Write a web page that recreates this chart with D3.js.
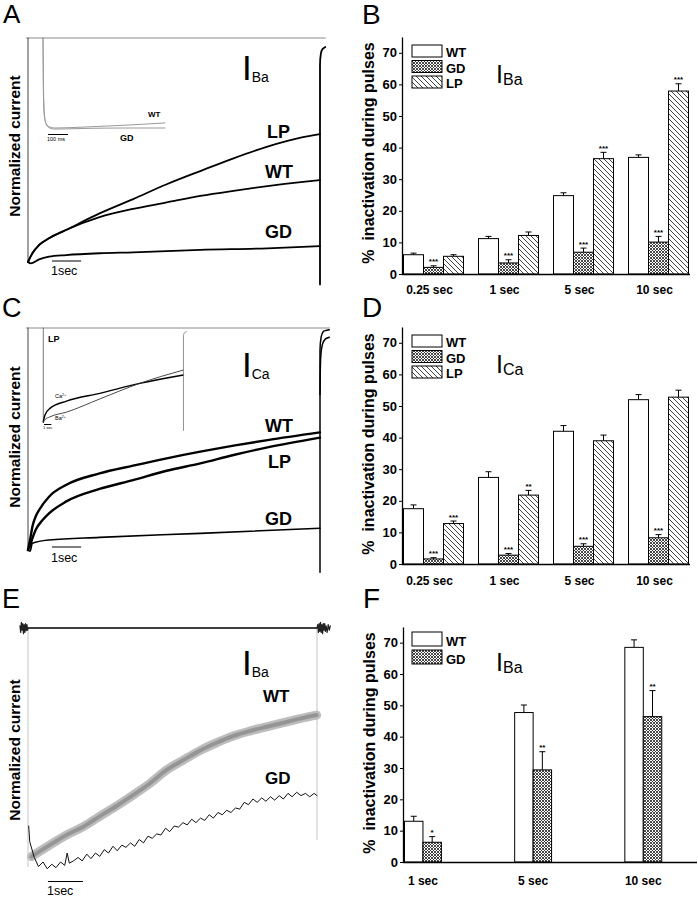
<!DOCTYPE html>
<html><head><meta charset="utf-8">
<script src="https://cdn.jsdelivr.net/npm/d3@7"></script>
<style>body{margin:0;background:#fff} svg{display:block;font-family:"Liberation Sans",Arial,Helvetica,sans-serif}</style>
</head><body><svg id="c" width="698" height="899"></svg>
<script>
// ===== Bar chart data =====
const yTicks = [0, 10, 20, 30, 40, 50, 60, 70];
const groupsBD = ["0.25 sec", "1 sec", "5 sec", "10 sec"];
const groupsF = ["1 sec", "5 sec", "10 sec"];

const B_WT = [6.1, 11.2, 24.8, 36.9];
const B_WT_err = [0.5, 0.7, 0.9, 0.8];
const B_GD = [2.1, 3.5, 6.9, 10.1];
const B_GD_err = [0.5, 1.0, 1.3, 1.8];
const B_LP = [5.6, 12.2, 36.5, 57.9];
const B_LP_err = [0.5, 1.1, 2.0, 2.3];
const B_GD_sig = ["***", "***", "***", "***"];
const B_LP_sig = ["", "", "***", "***"];

const D_WT = [17.5, 27.4, 42.0, 52.0];
const D_WT_err = [1.2, 1.8, 1.8, 1.6];
const D_GD = [1.6, 2.8, 5.6, 8.3];
const D_GD_err = [0.4, 0.5, 0.8, 1.0];
const D_LP = [12.8, 21.8, 39.0, 52.8];
const D_LP_err = [0.8, 1.5, 1.8, 2.2];
const D_GD_sig = ["***", "***", "***", "***"];
const D_LP_sig = ["***", "**", "", ""];

const F_WT = [13.0, 47.7, 68.5];
const F_WT_err = [1.6, 2.4, 2.4];
const F_GD = [6.3, 29.4, 46.4];
const F_GD_err = [1.8, 5.8, 8.3];
const F_GD_sig = ["*", "**", "**"];

// ===== Current traces (time in s, normalized current) =====
const A_zero = [[-0.05, 0], [10.18, 0]];
const A_onset = [[0, 0], [0, -1]];
const A_LP = [[0,-1],[0.15,-0.961],[0.38,-0.924],[0.72,-0.894],[1.30,-0.857],[2.45,-0.783],[3.60,-0.719],[4.75,-0.653],[5.90,-0.594],[7.04,-0.537],[8.20,-0.485],[9.34,-0.445],[10.0,-0.429]];
const A_WT = [[0,-1],[0.15,-0.961],[0.38,-0.924],[0.72,-0.894],[1.30,-0.857],[2.45,-0.800],[3.60,-0.763],[4.75,-0.734],[5.90,-0.705],[7.04,-0.682],[8.20,-0.661],[9.34,-0.643],[10.0,-0.634]];
const A_GD = [[0,-1],[0.09,-1.006],[0.38,-0.988],[0.72,-0.976],[1.30,-0.969],[2.45,-0.961],[3.60,-0.957],[5.90,-0.946],[8.20,-0.939],[10.0,-0.929]];
const A_tail = [[10.0,-1.10],[10.0,-0.12],[10.03,-0.07],[10.08,-0.05],[10.18,-0.04]];
// inset A (time in ms)
const inA_WT = [[0,0],[2,-0.6],[6,-0.85],[15,-0.95],[35,-0.99],[60,-1.0],[200,-0.99],[400,-0.97],[610,-0.944]];
const inA_GD = [[0,0],[3,-0.62],[8,-0.87],[18,-0.97],[38,-1.005],[60,-1.012],[200,-1.005],[400,-1.0],[610,-1.0]];

const C_zero = [[-0.05, 0], [10.32, 0]];
const C_onset = [[0, 0], [0, -1]];
const C_WT = [[0,-1],[0.09,-0.940],[0.15,-0.895],[0.26,-0.850],[0.38,-0.820],[0.72,-0.760],[1.30,-0.707],[2.45,-0.655],[3.60,-0.620],[4.75,-0.587],[5.90,-0.557],[7.04,-0.530],[8.20,-0.505],[10.0,-0.470]];
const C_LP = [[0,-1],[0.06,-0.985],[0.15,-0.948],[0.26,-0.910],[0.50,-0.865],[0.72,-0.835],[1.30,-0.782],[2.45,-0.725],[3.60,-0.685],[4.75,-0.643],[5.90,-0.610],[7.04,-0.572],[8.20,-0.538],[10.0,-0.494]];
const C_GD = [[0,-1],[0.07,-1.005],[0.15,-0.970],[0.72,-0.955],[2.45,-0.943],[5.90,-0.925],[10.0,-0.902]];
const C_tail1 = [[10.0,-1.10],[10.0,-0.10],[10.04,-0.04],[10.12,-0.015],[10.32,-0.008]];
const C_tail2 = [[10.0,-0.30],[10.02,-0.14],[10.08,-0.075],[10.18,-0.05],[10.32,-0.042]];
// inset C (time in s)
const inC_onset = [[0, 0], [0, -1]];
const inC_Ca = [[0,-1],[0.23,-0.926],[0.91,-0.855],[3.18,-0.777],[7.73,-0.695],[13.2,-0.589],[19.2,-0.50]];
const inC_Ba = [[0,-1],[0.23,-0.975],[0.91,-0.945],[3.18,-0.895],[7.73,-0.755],[13.2,-0.589],[19.2,-0.447]];
const inC_tail = [[19.2,-1.09],[19.2,-0.08],[19.35,-0.05],[19.6,-0.04]];

const E_zero = [[0, 0], [8.26, 0]];
const E_noiseL = [[-0.23,0.01],[-0.21,-0.02],[-0.19,0.025],[-0.17,-0.01],[-0.15,0.02],[-0.13,-0.025],[-0.11,0.015],[-0.09,-0.02],[-0.07,0.02],[-0.05,-0.012],[-0.03,0.015],[-0.01,-0.01],[0,0]];
const E_noiseR = [[8.26,0],[8.28,0.015],[8.30,-0.02],[8.32,0.02],[8.34,-0.015],[8.36,0.025],[8.38,-0.02],[8.40,0.015],[8.42,-0.025],[8.44,0.02],[8.46,-0.01],[8.48,0.02],[8.50,-0.015],[8.52,0.01],[8.55,-0.02],[8.58,0.015],[8.61,-0.01],[8.64,0.01]];
const E_onset = [[0, 0], [0, -1.06]];
const E_offset = [[8.26, 0], [8.26, -0.94]];
const E_WT = [[0.10,-1.016],[0.63,-0.964],[1.10,-0.920],[1.58,-0.883],[2.06,-0.836],[2.53,-0.791],[3.01,-0.742],[3.49,-0.690],[3.96,-0.631],[4.44,-0.587],[4.91,-0.545],[5.39,-0.510],[5.87,-0.480],[6.34,-0.458],[6.82,-0.439],[7.30,-0.421],[7.77,-0.403],[8.25,-0.387]];
const E_GD = [[0.02,-0.88],[0.05,-0.95],[0.18,-1.02],[0.30,-1.06],[0.43,-1.04],[0.55,-1.07],[0.68,-1.05],[0.80,-1.065],[0.93,-1.04],[1.05,-1.055],[1.12,-1.00],[1.18,-1.045],[1.30,-1.035],[1.43,-1.02],[1.55,-1.035],[1.68,-1.005],[1.80,-1.025],[1.93,-1.00],[2.05,-1.015],[2.18,-0.985],[2.30,-1.00],[2.43,-0.97],[2.55,-0.99],[2.68,-0.965],[2.80,-0.975],[2.93,-0.955],[3.05,-0.97],[3.18,-0.94],[3.30,-0.955],[3.43,-0.925],[3.55,-0.935],[3.68,-0.915],[3.80,-0.92],[3.93,-0.89],[4.05,-0.905],[4.18,-0.88],[4.30,-0.885],[4.43,-0.865],[4.55,-0.875],[4.68,-0.85],[4.80,-0.865],[4.93,-0.845],[5.05,-0.855],[5.18,-0.83],[5.30,-0.845],[5.43,-0.82],[5.55,-0.83],[5.68,-0.81],[5.80,-0.82],[5.93,-0.80],[6.05,-0.805],[6.18,-0.775],[6.30,-0.785],[6.43,-0.76],[6.55,-0.775],[6.68,-0.755],[6.80,-0.77],[6.93,-0.75],[7.05,-0.765],[7.18,-0.745],[7.30,-0.76],[7.43,-0.735],[7.55,-0.75],[7.68,-0.73],[7.80,-0.745],[7.93,-0.735],[8.05,-0.75],[8.18,-0.735],[8.26,-0.745]];

const svg = d3.select("#c");
const defs = svg.append("defs");
const pGD = defs.append("pattern").attr("id","pGD").attr("patternUnits","userSpaceOnUse").attr("width",3).attr("height",3);
pGD.append("rect").attr("width",3).attr("height",3).attr("fill","#fff");
pGD.append("path").attr("d","M0,0L3,3M3,0L0,3").attr("stroke","#333").attr("stroke-width",0.9);
const pLP = defs.append("pattern").attr("id","pLP").attr("patternUnits","userSpaceOnUse").attr("width",5).attr("height",5);
pLP.append("rect").attr("width",5).attr("height",5).attr("fill","#fff");
pLP.append("path").attr("d","M-1,-1L6,6M-1,4L1,6M4,-1L6,1").attr("stroke","#111").attr("stroke-width",0.8);

const fills = {WT: "#fff", GD: "url(#pGD)", LP: "url(#pLP)"};

function panelLetter(t, x, y, fs) {
  svg.append("text").attr("x", x).attr("y", y).attr("font-size", fs).text(t);
}
function ionLabel(ion, x, y, fsI, fsS) {
  const t = svg.append("text").attr("x", x).attr("y", y);
  t.append("tspan").attr("font-size", fsI).text("I");
  t.append("tspan").attr("font-size", fsS).attr("dy", 2).text(ion);
}

function barChart(o) {
  const g = svg.append("g");
  const y = d3.scaleLinear().domain([0, 75]).range([o.y0, o.yTop]);
  const x = d3.scaleBand().domain(o.groups).range([o.xa + 1.5, o.xb]).paddingInner(o.pi).paddingOuter(o.po).align(0);
  const xs = d3.scaleBand().domain(o.series.map(s => s.name)).range([0, x.bandwidth()]);
  o.series.forEach(s => {
    const rows = o.groups.map((gname, i) => ({g: gname, v: s.values[i], e: s.err[i], sig: s.sig ? s.sig[i] : ""}));
    const cx = d => x(d.g) + xs(s.name) + xs.bandwidth() / 2;
    g.selectAll(null).data(rows).join("line")
      .attr("x1", cx).attr("x2", cx).attr("y1", d => y(d.v)).attr("y2", d => y(d.v + d.e))
      .attr("stroke", "#000").attr("stroke-width", 1);
    g.selectAll(null).data(rows).join("line")
      .attr("x1", d => cx(d) - 3).attr("x2", d => cx(d) + 3).attr("y1", d => y(d.v + d.e)).attr("y2", d => y(d.v + d.e))
      .attr("stroke", "#000").attr("stroke-width", 1);
    g.selectAll(null).data(rows).join("rect")
      .attr("x", d => x(d.g) + xs(s.name)).attr("width", xs.bandwidth())
      .attr("y", d => y(d.v)).attr("height", d => o.y0 - y(d.v))
      .attr("fill", fills[s.name]).attr("stroke", "#000").attr("stroke-width", 1);
    g.selectAll(null).data(rows.filter(d => d.sig)).join("text")
      .attr("x", cx).attr("y", d => y(d.v + d.e) - 1.5).attr("text-anchor", "middle")
      .attr("font-size", 8).attr("font-weight", "bold").text(d => d.sig);
  });
  // axes
  const ya = g.append("g").attr("transform", `translate(${o.xa},0)`)
    .call(d3.axisLeft(y).tickValues(yTicks).tickSize(3).tickSizeOuter(0).tickPadding(2));
  ya.select(".domain").attr("stroke-width", 1.3);
  ya.selectAll("text").attr("font-size", 13).attr("font-weight", "bold").attr("fill", "#000")
    .attr("font-family", '"Liberation Sans",Arial,sans-serif');
  g.append("line").attr("x1", o.xa).attr("x2", o.xb).attr("y1", o.y0 + 0.5).attr("y2", o.y0 + 0.5)
    .attr("stroke", "#000").attr("stroke-width", 1.3);
  g.selectAll(null).data(o.groups).join("text")
    .attr("x", d => x(d) + x.bandwidth() / 2 + o.labOff).attr("y", o.labY).attr("text-anchor", "middle")
    .attr("font-size", 12).attr("font-weight", "bold").text(d => d);
  g.append("text").attr("transform", `translate(${o.xa - 28},${o.labCY}) rotate(-90)`)
    .attr("text-anchor", "middle").attr("font-size", 16).attr("font-weight", "bold")
    .text("%\u00a0 inactivation during pulses");
  // legend
  o.series.forEach((s, i) => {
    const ly = o.legY + i * o.legStep;
    g.append("rect").attr("x", 412).attr("y", ly).attr("width", 30).attr("height", o.legH)
      .attr("fill", fills[s.name]).attr("stroke", "#000").attr("stroke-width", 1);
    g.append("text").attr("x", 446).attr("y", ly + o.legH).attr("font-size", 13).attr("font-weight", "bold").text(s.name);
  });
}

barChart({groups: groupsBD, xa: 402, xb: 690, y0: 274, yTop: 37, pi: 0.2, po: 0.01, labOff: -4, labY: 294, labCY: 153,
  legY: 45, legStep: 15.5, legH: 12,
  series: [{name: "WT", values: B_WT, err: B_WT_err}, {name: "GD", values: B_GD, err: B_GD_err, sig: B_GD_sig}, {name: "LP", values: B_LP, err: B_LP_err, sig: B_LP_sig}]});
barChart({groups: groupsBD, xa: 402, xb: 690, y0: 564, yTop: 327, pi: 0.2, po: 0.01, labOff: -4, labY: 585, labCY: 444,
  legY: 335, legStep: 15.5, legH: 12,
  series: [{name: "WT", values: D_WT, err: D_WT_err}, {name: "GD", values: D_GD, err: D_GD_err, sig: D_GD_sig}, {name: "LP", values: D_LP, err: D_LP_err, sig: D_LP_sig}]});
barChart({groups: groupsF, xa: 403, xb: 697, y0: 862, yTop: 627, pi: 0.665, po: 0.16, labOff: 0, labY: 885, labCY: 743,
  legY: 632, legStep: 18, legH: 14,
  series: [{name: "WT", values: F_WT, err: F_WT_err}, {name: "GD", values: F_GD, err: F_GD_err, sig: F_GD_sig}]});

// ===== trace panels =====
function path(g, data, xs, ys, stroke, sw, curve) {
  g.append("path").datum(data)
    .attr("d", d3.line().x(d => xs(d[0])).y(d => ys(d[1])).curve(curve || d3.curveLinear))
    .attr("fill", "none").attr("stroke", stroke).attr("stroke-width", sw)
    .attr("stroke-linejoin", "round").attr("stroke-linecap", "round");
}
const mono = d3.curveMonotoneX;
function ylab(cy) {
  svg.append("text").attr("transform", `translate(20,${cy}) rotate(-90)`).attr("text-anchor", "middle")
    .attr("font-size", 15.5).attr("font-weight", "bold").text("Normalized current");
}
function bold(t, x, y, fs) {
  svg.append("text").attr("x", x).attr("y", y).attr("font-size", fs).attr("font-weight", "bold").text(t);
}
function scaleBar(g, xs, t0, t1, y, label, ly, fs) {
  g.append("line").attr("x1", xs(t0)).attr("x2", xs(t1)).attr("y1", y).attr("y2", y).attr("stroke", "#000").attr("stroke-width", 1);
  g.append("text").attr("x", xs(t0) - 1).attr("y", ly).attr("font-size", fs).text(label);
}

// Panel A
const gA = svg.append("g");
const xA = d3.scaleLinear().domain([0, 10]).range([28, 320]);
const yA = d3.scaleLinear().domain([-1, 0]).range([262, 38]);
path(gA, A_zero, xA, yA, "#8a8a8a", 1);
path(gA, A_onset, xA, yA, "#444", 1);
path(gA, A_LP, xA, yA, "#000", 1.8, mono);
path(gA, A_WT, xA, yA, "#000", 1.8, mono);
path(gA, A_GD, xA, yA, "#000", 1.8, mono);
path(gA, A_tail, xA, yA, "#000", 1.8, d3.curveMonotoneY);
const xIA = d3.scaleLinear().domain([0, 100]).range([43, 63]);
const yIA = d3.scaleLinear().domain([-1, 0]).range([128, 38]);
path(gA, inA_WT, xIA, yIA, "#9a9a9a", 1, mono);
path(gA, inA_GD, xIA, yIA, "#9a9a9a", 1, mono);
scaleBar(gA, xIA, 25, 125, 134.5, "100 ms", 141, 5.5);
bold("WT", 148, 117, 8);
bold("GD", 120, 141, 9);
scaleBar(gA, xA, 0.82, 1.82, 261, "1sec", 275, 12.5);
bold("LP", 267, 138, 18);
bold("WT", 265, 178, 18);
bold("GD", 265, 238, 18);
ionLabel("Ba", 242, 80, 35, 14);
ylab(146);
panelLetter("A", 3, 23, 26);

// Panel C
const gC = svg.append("g");
const xC = d3.scaleLinear().domain([0, 10]).range([28, 320]);
const yC = d3.scaleLinear().domain([-1, 0]).range([550, 328]);
path(gC, C_zero, xC, yC, "#8a8a8a", 1);
path(gC, C_onset, xC, yC, "#444", 1);
path(gC, C_WT, xC, yC, "#000", 2.4, mono);
path(gC, C_LP, xC, yC, "#000", 2.4, mono);
path(gC, C_GD, xC, yC, "#000", 1.6, mono);
path(gC, C_tail1, xC, yC, "#000", 1.5, d3.curveMonotoneY);
path(gC, C_tail2, xC, yC, "#000", 1.5, d3.curveMonotoneY);
const xIC = d3.scaleLinear().domain([0, 1]).range([43.3, 50.6]);
const yIC = d3.scaleLinear().domain([-1, 0]).range([422, 328]);
path(gC, inC_onset, xIC, yIC, "#555", 0.8);
path(gC, inC_Ca, xIC, yIC, "#000", 1.4, mono);
path(gC, inC_Ba, xIC, yIC, "#333", 0.9, mono);
path(gC, inC_tail, xIC, yIC, "#777", 0.8, d3.curveMonotoneY);
bold("LP", 48, 342, 9);
const tCa = gC.append("text").attr("x", 55).attr("y", 398).attr("font-size", 5.5).text("Ca");
tCa.append("tspan").attr("font-size", 3.5).attr("dy", -2).text("2+");
const tBa = gC.append("text").attr("x", 55).attr("y", 420).attr("font-size", 5.5).text("Ba");
tBa.append("tspan").attr("font-size", 3.5).attr("dy", -2).text("2+");
scaleBar(gC, xIC, 0.1, 1.1, 424.5, "1 sec", 429, 4);
scaleBar(gC, xC, 0.82, 1.82, 547, "1sec", 562, 12.5);
bold("WT", 265, 432, 18);
bold("LP", 268, 468, 18);
bold("GD", 265, 525, 18);
ionLabel("Ca", 242, 377, 35, 14);
ylab(437);
panelLetter("C", 2, 317, 27);

// Panel E
const gE = svg.append("g");
const xE = d3.scaleLinear().domain([0, 8.26]).range([28, 317]);
const yE = d3.scaleLinear().domain([-1, 0]).range([853, 628]);
path(gE, E_onset, xE, yE, "#c4c4c4", 1);
path(gE, E_offset, xE, yE, "#c4c4c4", 1);
path(gE, E_WT, xE, yE, "#bdbdbd", 9, mono);
path(gE, E_WT, xE, yE, "#959595", 4, mono);
path(gE, E_GD, xE, yE, "#111", 1);
path(gE, E_zero, xE, yE, "#000", 1.3);
path(gE, E_noiseL, xE, yE, "#222", 1.2);
path(gE, E_noiseR, xE, yE, "#222", 1.2);
scaleBar(gE, xE, 0.57, 1.57, 881.5, "1sec", 895, 12.5);
bold("WT", 263, 702, 17);
bold("GD", 265, 784, 17);
ionLabel("Ba", 242, 675, 35, 14);
ylab(750);
panelLetter("E", 2, 608, 27);

panelLetter("B", 362, 24, 28);
panelLetter("D", 362, 317, 28);
panelLetter("F", 363, 608, 28);
ionLabel("Ba", 496, 83, 25, 16);
ionLabel("Ca", 496, 373, 25, 16);
ionLabel("Ba", 496, 671, 25, 16);
</script></body></html>
